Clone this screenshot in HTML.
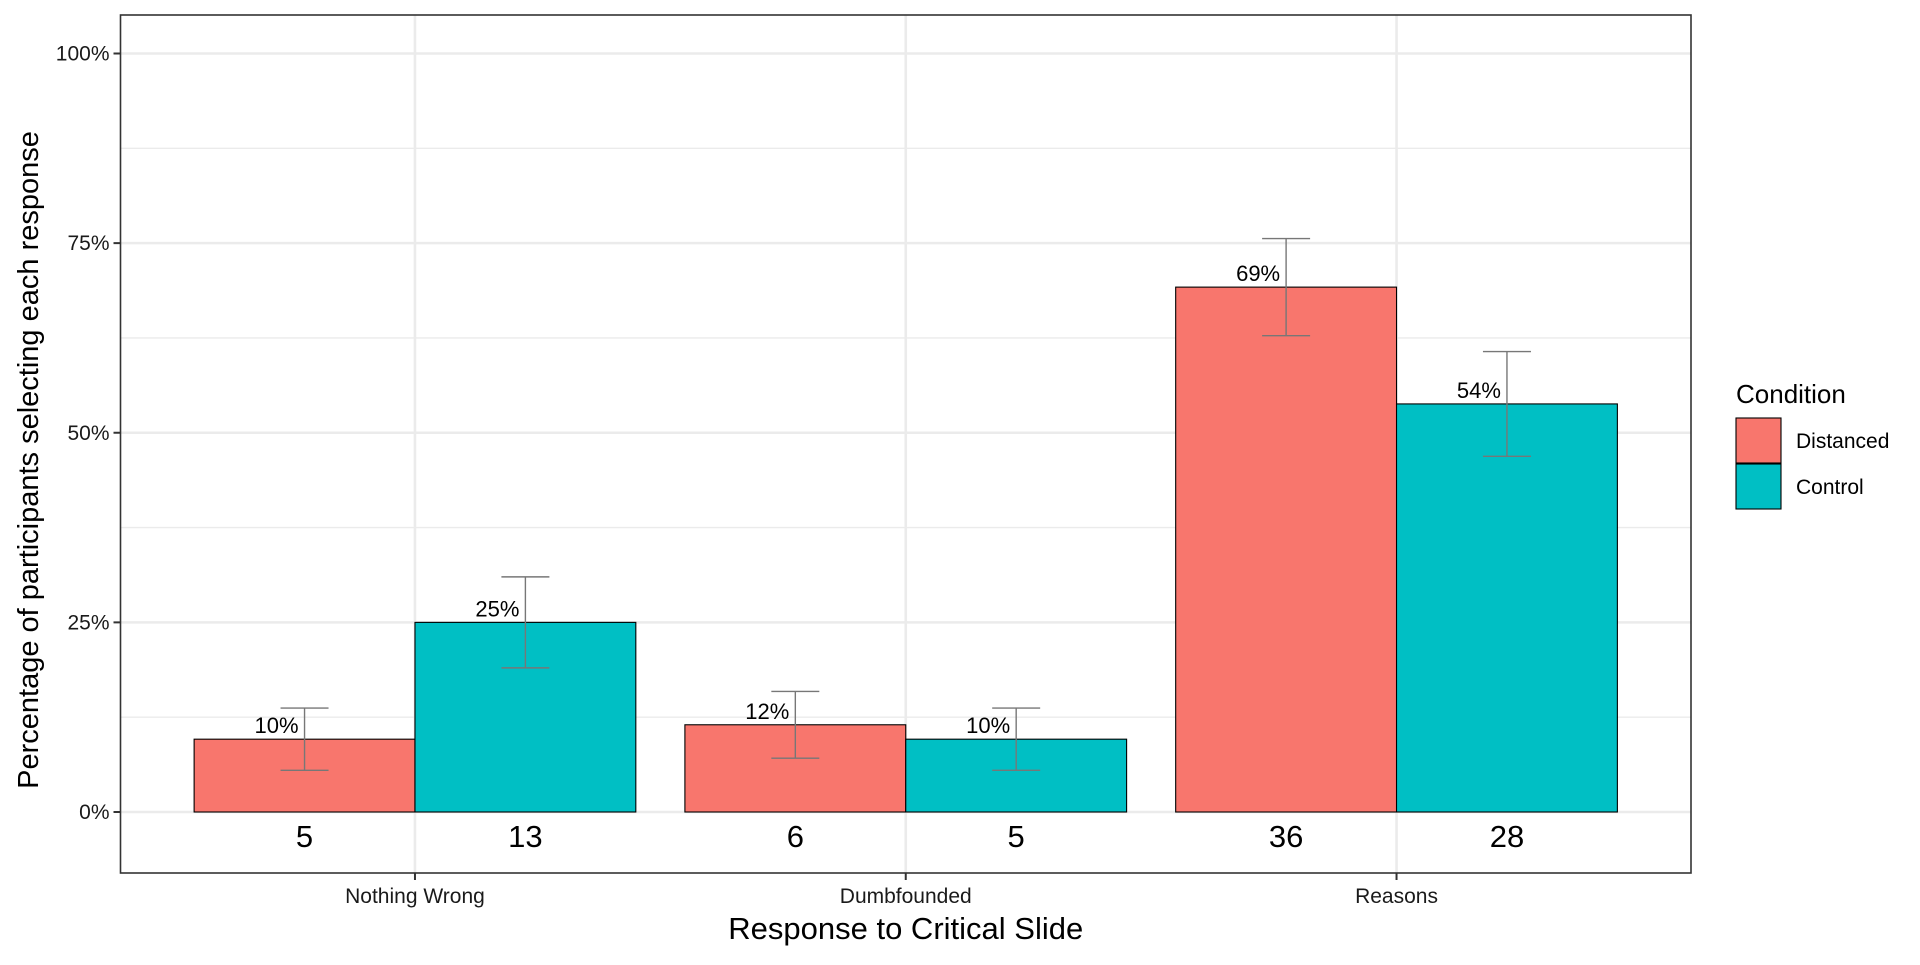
<!DOCTYPE html>
<html><head><meta charset="utf-8"><style>
html,body{margin:0;padding:0;background:#fff}
svg text{font-family:"Liberation Sans",sans-serif}
</style></head><body>
<svg id="chart" width="1920" height="960" xmlns="http://www.w3.org/2000/svg"></svg>
<script>
const categories = ["Nothing Wrong","Dumbfounded","Reasons"];
const seriesNames = ["Distanced","Control"];
const distancedPct = [9.6, 11.5, 69.2];
const controlPct = [25.0, 9.6, 53.8];
const distancedErr = [4.1, 4.4, 6.4];
const controlErr = [6.0, 4.1, 6.9];
const distancedCount = [5, 6, 36];
const controlCount = [13, 5, 28];
const pctLabelsD = ["10%","12%","69%"];
const pctLabelsC = ["25%","10%","54%"];
const yTicks = [0,25,50,75,100];
const yTickLabels = ["0%","25%","50%","75%","100%"];

const NS="http://www.w3.org/2000/svg";
const svg=document.getElementById('chart');
const L=120.5,R=1691,T=15,B=873;
const y0=812,y100=53.5;
const y=v=>y0+(y100-y0)*v/100;
const unit=(R-L)/3.2;
const xc=i=>L+(0.6+i)*unit;
const bw=0.45*unit;
function mk(tag,attrs,parent){const e=document.createElementNS(NS,tag);for(const k in attrs)e.setAttribute(k,attrs[k]);(parent||svg).appendChild(e);return e;}

const bg=mk('rect',{x:L,y:T,width:R-L,height:B-T,fill:'#fff'});


for(let i=0;i<yTicks.length-1;i++){const v=(yTicks[i]+yTicks[i+1])/2;
 const g=mk('line',{x1:L,x2:R,y1:y(v),y2:y(v),stroke:'#ebebeb','stroke-width':1.3});
 
 }
yTicks.forEach((v,i)=>{const g=mk('line',{x1:L,x2:R,y1:y(v),y2:y(v),stroke:'#ebebeb','stroke-width':2.6});
 
 
 const t=mk('line',{x1:L-7,x2:L,y1:y(v),y2:y(v),stroke:'#333','stroke-width':2});
 
 
 const tx=mk('text',{x:L-11,y:y(v)+7,'text-anchor':'end','font-size':21,fill:'#1a1a1a'});
 tx.textContent=yTickLabels[i];
 
 });
categories.forEach((c,i)=>{const g=mk('line',{x1:xc(i),x2:xc(i),y1:T,y2:B,stroke:'#ebebeb','stroke-width':2.6});
 
 
 const t=mk('line',{x1:xc(i),x2:xc(i),y1:B,y2:B+7,stroke:'#333','stroke-width':2});
 
 
 const tx=mk('text',{x:xc(i),y:B+30,'text-anchor':'middle','font-size':21,fill:'#1a1a1a'});
 tx.textContent=c;
 
 });

const colors=['#F8766D','#00BFC4'];
const vals=[distancedPct,controlPct],errs=[distancedErr,controlErr],cnts=[distancedCount,controlCount],lbls=[pctLabelsD,pctLabelsC];
for(let s=0;s<2;s++){
 categories.forEach((c,i)=>{
  const x0=xc(i)-bw+s*bw, v=vals[s][i];
  const r=mk('rect',{x:x0,y:y(v),width:bw,height:y0-y(v),fill:colors[s],stroke:'#000','stroke-width':1.1});
  
  
 });
}
for(let s=0;s<2;s++){
 categories.forEach((c,i)=>{
  const cx=xc(i)-bw/2+s*bw, v=vals[s][i], e=errs[s][i];
  const eg=mk('g',{stroke:'#777','stroke-width':1.4});
  
  
  mk('line',{x1:cx,x2:cx,y1:y(v+e),y2:y(v-e)},eg);
  mk('line',{x1:cx-24,x2:cx+24,y1:y(v+e),y2:y(v+e)},eg);
  mk('line',{x1:cx-24,x2:cx+24,y1:y(v-e),y2:y(v-e)},eg);
  const t=mk('text',{x:cx-28,y:y(v)-6,'text-anchor':'middle','font-size':22,fill:'#000'});
  t.textContent=lbls[s][i];
  
  
  const n=mk('text',{x:cx,y:847,'text-anchor':'middle','font-size':31,fill:'#000'});
  n.textContent=cnts[s][i];
  
  
 });
}
const border=mk('rect',{x:L,y:T,width:R-L,height:B-T,fill:'none',stroke:'#333','stroke-width':1.6});


const xt=mk('text',{x:(L+R)/2,y:939,'text-anchor':'middle','font-size':31,fill:'#000'});
xt.textContent='Response to Critical Slide';


const yt=mk('text',{x:0,y:0,'text-anchor':'middle','font-size':29,fill:'#000',transform:`translate(38,460) rotate(-90)`});
yt.textContent='Percentage of participants selecting each response';


const lg=mk('g',{});


const lt=mk('text',{x:1736,y:403,'font-size':26,fill:'#000'},lg);
lt.textContent='Condition';


seriesNames.forEach((n,s)=>{
 const ky=418+s*46;
 const k=mk('rect',{x:1736,y:ky,width:45,height:45,fill:colors[s],stroke:'#000','stroke-width':1.1},lg);
 
 
 const t=mk('text',{x:1796,y:ky+30,'font-size':21,fill:'#000'},lg);
 t.textContent=n;
 
 
});
</script>
</body></html>
